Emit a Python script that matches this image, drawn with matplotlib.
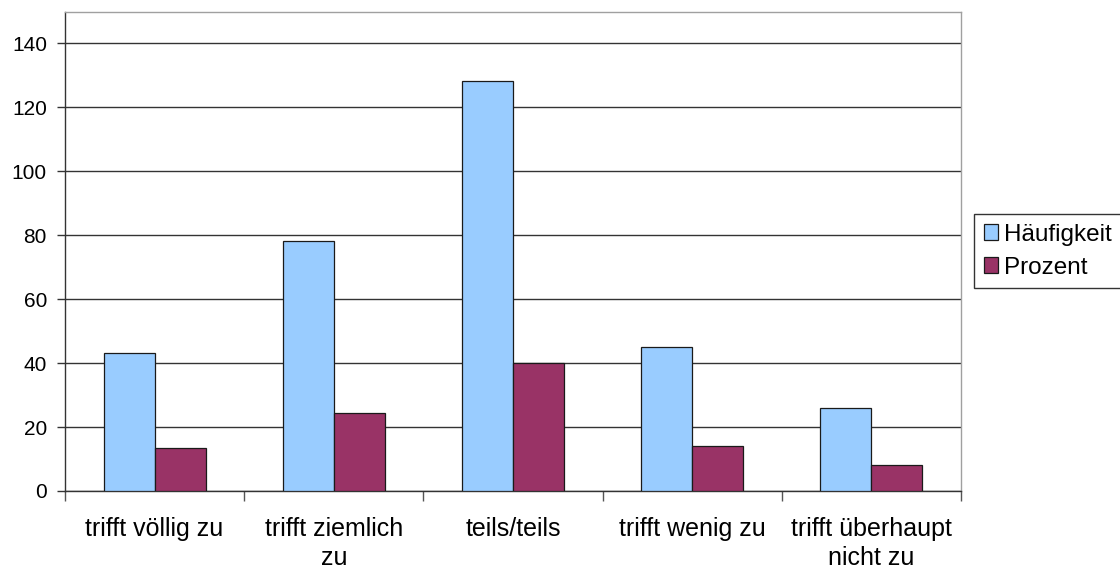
import matplotlib
matplotlib.use("Agg")
import matplotlib.pyplot as plt
import numpy as np

plt.rcParams['font.family'] = ['Liberation Sans', 'DejaVu Sans']

categories = ["trifft völlig zu", "trifft ziemlich\nzu", "teils/teils",
              "trifft wenig zu", "trifft überhaupt\nnicht zu"]
haeufigkeit = [43, 78, 128, 45, 26]
prozent = [13.4, 24.4, 40.0, 14.1, 8.1]
series_names = ["Häufigkeit", "Prozent"]
y_ticks = [0, 20, 40, 60, 80, 100, 120, 140]

W, H = 1120, 571
fig = plt.figure(figsize=(W / 100, H / 100), dpi=100)
ax = fig.add_axes([65 / W, (H - 491) / H, 896 / W, 479 / H])

x = np.arange(len(categories))
bw = 0.285
b1 = ax.bar(x - bw / 2, haeufigkeit, bw, color="#99CCFF", edgecolor="#1a1a1a",
            linewidth=0.9, zorder=3, label=series_names[0])
b2 = ax.bar(x + bw / 2, prozent, bw, color="#993366", edgecolor="#1a1a1a",
            linewidth=0.9, zorder=3, label=series_names[1])

ax.set_xlim(-0.5, len(categories) - 0.5)
ax.set_ylim(0, 149.7)
ax.set_yticks(y_ticks)
ax.yaxis.grid(True, color="#333333", linewidth=1.0, zorder=0)
ax.tick_params(axis='y', length=6, width=1, color="#333333", labelsize=15, pad=7)

ax.set_xticks(x)
ax.set_xticklabels(categories, fontsize=18, linespacing=1.25)
ax.tick_params(axis='x', which='major', length=0, pad=19)
ax.set_xticks(np.arange(len(categories) + 1) - 0.5, minor=True)
ax.tick_params(axis='x', which='minor', length=7, width=1, color="#555555")

for s in ['top', 'right']:
    ax.spines[s].set_color("#a0a0a0")
    ax.spines[s].set_linewidth(1.0)
for s in ['left', 'bottom']:
    ax.spines[s].set_color("#333333")
    ax.spines[s].set_linewidth(1.0)

leg = fig.legend(handles=[b1, b2], labels=series_names, loc='upper left',
                 bbox_to_anchor=(974 / W, 1 - 214 / H), fontsize=17.5,
                 frameon=True, fancybox=False, borderpad=0.4,
                 handlelength=0.6, handleheight=0.6, handletextpad=0.25,
                 labelspacing=0.45, borderaxespad=0)
leg.get_frame().set_edgecolor("#000000")
leg.get_frame().set_linewidth(1.0)

fig.savefig("out.png", dpi=100)
